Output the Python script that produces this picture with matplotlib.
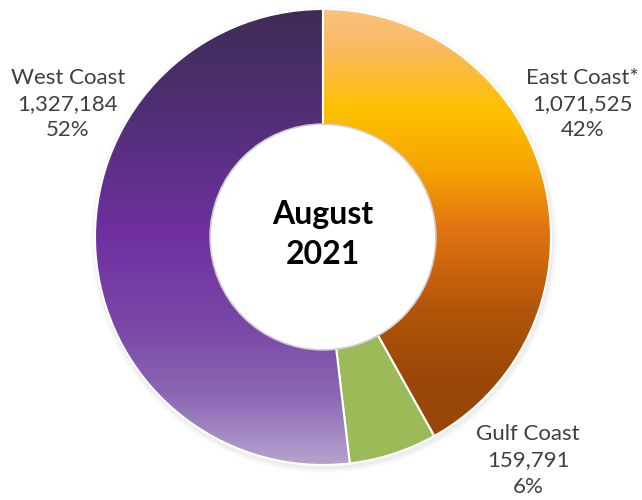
import numpy as np
import matplotlib.pyplot as plt
from matplotlib.colors import LinearSegmentedColormap
from matplotlib.patches import Circle

# data
regions = ["East Coast*", "Gulf Coast", "West Coast"]
values = [1071525, 159791, 1327184]
center_label = "August\n2021"

plt.rcParams['font.family'] = ['Lato', 'DejaVu Sans']

fig = plt.figure(figsize=(6.42, 5.0), dpi=100)
ax = fig.add_axes([0, 0, 1, 1])
R = 228.0
ax.set_xlim(-323 / R, 319 / R)
ax.set_ylim(-263 / R, 237 / R)
ax.axis('off')

# soft shadow behind the ring
for i, a in enumerate([0.06, 0.045, 0.03]):
    ax.add_patch(Circle((0.004, -0.012), 1.0 + 0.008 * (i + 1), color='#808080',
                        alpha=a, lw=0, zorder=0))

wedges, _ = ax.pie(values, startangle=90, counterclock=False, radius=1.0,
                   colors=['none', '#9BBB59', 'none'],
                   wedgeprops=dict(width=0.51, edgecolor='white', linewidth=1.5))

# vertical gradients, top -> bottom
east_cmap = LinearSegmentedColormap.from_list('east', [
    (0.0, '#FAC27E'), (0.08, '#F9BA62'), (0.22, '#FFC000'), (0.35, '#F5A400'),
    (0.48, '#E27412'), (0.66, '#B2550A'), (0.81, '#9A4808'), (1.0, '#984608')])
west_cmap = LinearSegmentedColormap.from_list('west', [
    (0.0, '#3F2C55'), (0.2, '#4E2E72'), (0.5, '#7030A0'), (0.7, '#7A48A8'),
    (0.85, '#8C68B4'), (1.0, '#B6A4CC')])
grad = np.linspace(0, 1, 256).reshape(-1, 1)
for w, cm in [(wedges[0], east_cmap), (wedges[2], west_cmap)]:
    im = ax.imshow(grad, cmap=cm, extent=[-1, 1, -1, 1], origin='upper',
                   aspect='auto', zorder=1)
    im.set_clip_path(w)
    w.set_zorder(2)
ax.set_xlim(-323 / R, 319 / R)
ax.set_ylim(-263 / R, 237 / R)

# hole rim shadow
ax.add_patch(Circle((0, 0), 0.495, facecolor='white', edgecolor='#d0d0d0',
                    lw=1.2, zorder=3))

total = sum(values)
pos = {"East Coast*": (1.14, 0.585), "Gulf Coast": (0.90, -0.98),
       "West Coast": (-1.12, 0.585)}
for name, v in zip(regions, values):
    x, y = pos[name]
    ax.text(x, y, f"{name}\n{v:,}\n{v / total:.0%}", ha='center', va='center',
            fontsize=16, color='#404040', linespacing=1.38)

ax.text(0, 0.01, center_label, ha='center', va='center', fontsize=23,
        fontweight='bold', color='black', linespacing=1.45)

fig.savefig('out.png', dpi=100)
